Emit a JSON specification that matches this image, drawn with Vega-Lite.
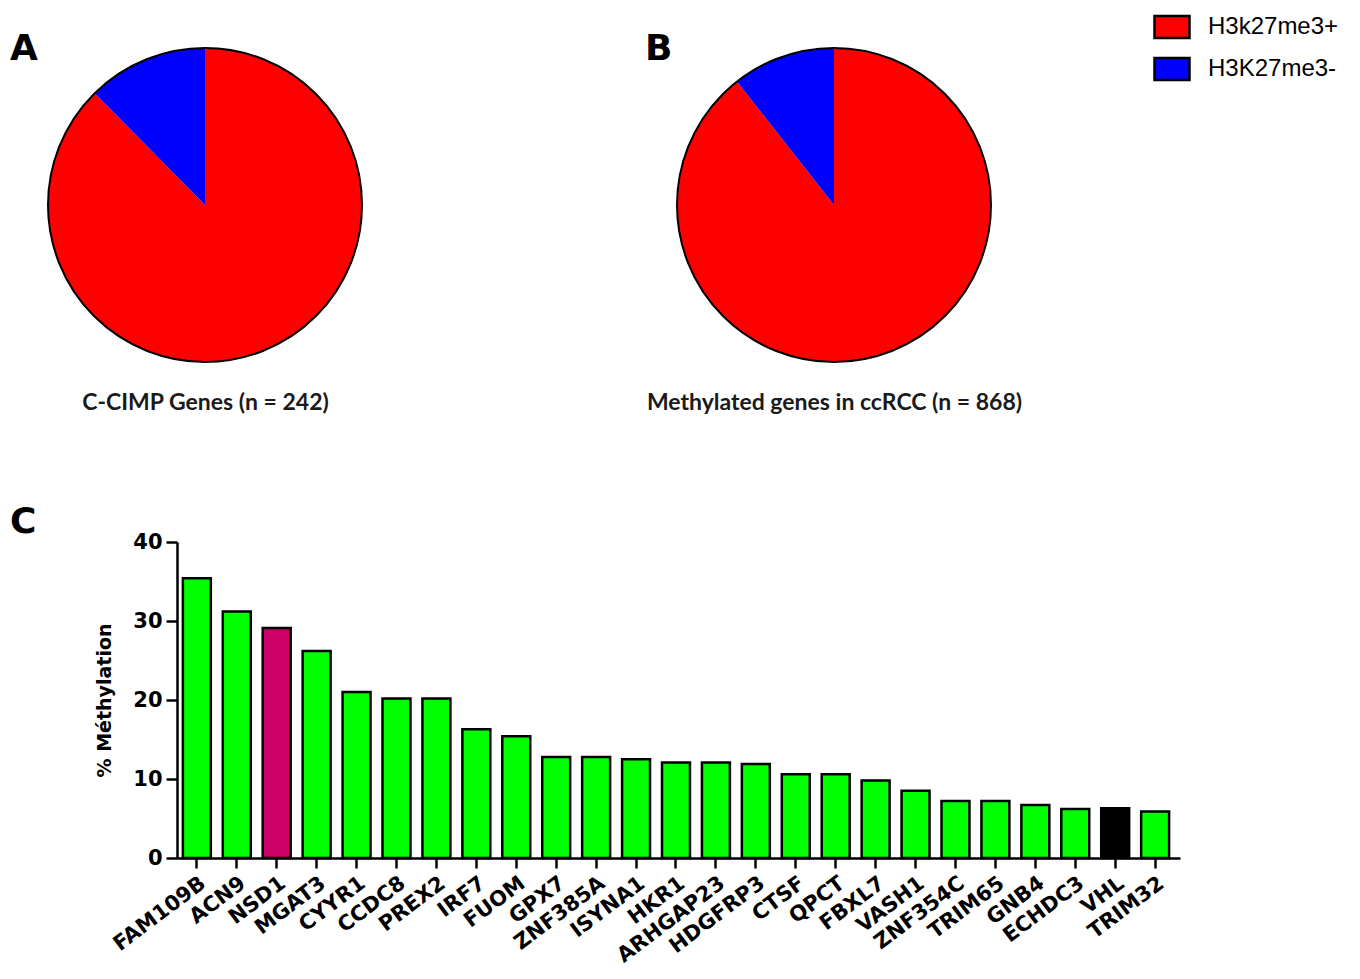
{
  "$schema": "https://vega.github.io/schema/vega-lite/v6.json",
  "padding": {"left": 10, "top": 8, "right": 0, "bottom": 0},
  "background": "white",
  "config": {
    "view": {"stroke": null},
    "title": {"font": "DejaVu Sans", "fontWeight": "bold", "fontSize": 36, "color": "black", "anchor": "start", "frame": "group"}
  },
  "resolve": {"scale": {"color": "independent"}},
  "spacing": 90,
  "vconcat": [
    {
      "hconcat": [
        {
          "title": {"text": "A", "dx": -167, "dy": 28},
          "width": 56, "height": 314,
          "layer": [
            {
              "data": {"values": [
                {"status": "H3k27me3+", "count": 212, "ord": 1},
                {"status": "H3K27me3-", "count": 30, "ord": 2}
              ]},
              "mark": {"type": "arc", "stroke": null, "outerRadius": 157},
              "encoding": {
                "theta": {"field": "count", "type": "quantitative", "stack": true},
                "order": {"field": "ord", "type": "quantitative"},
                "color": {"field": "status", "type": "nominal", "scale": {"domain": ["H3k27me3+", "H3K27me3-"], "range": ["#FF0000", "#0000FF"]}, "legend": null}
              }
            },
            {
              "data": {"values": [
                {"status": "H3k27me3+", "count": 212},
                {"status": "H3K27me3-", "count": 30}
              ]},
              "mark": {"type": "arc", "filled": false, "stroke": "black", "strokeWidth": 2, "outerRadius": 157},
              "encoding": {
                "theta": {"aggregate": "sum", "field": "count", "type": "quantitative"}
              }
            },
            {
              "data": {"values": [{"cap": "C-CIMP Genes (n = 242)"}]},
              "mark": {"type": "text", "text": ""},
              "encoding": {
                "x": {"field": "cap", "type": "nominal", "axis": {"title": null, "domain": false, "ticks": false, "labelAngle": 0, "labelFont": "Lato", "labelFontWeight": "bold", "labelFontSize": 23, "labelColor": "#1a1a1a", "labelPadding": 29, "labelLimit": 0}}
              }
            }
          ]
        },
        {
          "title": {"text": "B", "dx": -32, "dy": 64},
          "width": 314, "height": 314,
          "layer": [
            {
              "data": {"values": [
                {"status": "H3k27me3+", "count": 776, "ord": 1},
                {"status": "H3K27me3-", "count": 92, "ord": 2}
              ]},
              "mark": {"type": "arc", "stroke": null, "outerRadius": 157},
              "encoding": {
                "theta": {"field": "count", "type": "quantitative", "stack": true},
                "order": {"field": "ord", "type": "quantitative"},
                "color": {"field": "status", "type": "nominal", "scale": {"domain": ["H3k27me3+", "H3K27me3-"], "range": ["#FF0000", "#0000FF"]},
                  "legend": {"orient": "none", "legendX": 476, "legendY": -40, "title": null, "symbolType": "M-1,-0.63H1V0.63H-1Z", "symbolSize": 1225, "symbolStrokeColor": "black", "symbolStrokeWidth": 2.5, "symbolOpacity": 1, "labelFont": "Liberation Sans", "labelFontSize": 24, "labelColor": "black", "labelOffset": 17, "rowPadding": 6, "labelLimit": 0}}
              }
            },
            {
              "data": {"values": [
                {"status": "H3k27me3+", "count": 776},
                {"status": "H3K27me3-", "count": 92}
              ]},
              "mark": {"type": "arc", "filled": false, "stroke": "black", "strokeWidth": 2, "outerRadius": 157},
              "encoding": {
                "theta": {"aggregate": "sum", "field": "count", "type": "quantitative"}
              }
            },
            {
              "data": {"values": [{"cap": "Methylated genes in ccRCC (n = 868)"}]},
              "mark": {"type": "text", "text": ""},
              "encoding": {
                "x": {"field": "cap", "type": "nominal", "axis": {"title": null, "domain": false, "ticks": false, "labelAngle": 0, "labelFont": "Lato", "labelFontWeight": "bold", "labelFontSize": 23, "labelColor": "#1a1a1a", "labelPadding": 29, "labelLimit": 0}}
              }
            }
          ]
        }
      ],
      "bounds": "flush",
      "spacing": 444,
      "resolve": {"scale": {"color": "independent", "theta": "independent", "x": "independent"}}
    },
    {
      "title": {"text": "C", "dx": -167, "dy": 14},
      "width": 1003,
      "height": 316,
      "data": {"values": [
        {"gene": "FAM109B", "pct": 35.4, "kind": "other"},
        {"gene": "ACN9", "pct": 31.2, "kind": "other"},
        {"gene": "NSD1", "pct": 29.1, "kind": "NSD1"},
        {"gene": "MGAT3", "pct": 26.2, "kind": "other"},
        {"gene": "CYYR1", "pct": 21.0, "kind": "other"},
        {"gene": "CCDC8", "pct": 20.2, "kind": "other"},
        {"gene": "PREX2", "pct": 20.2, "kind": "other"},
        {"gene": "IRF7", "pct": 16.3, "kind": "other"},
        {"gene": "FUOM", "pct": 15.4, "kind": "other"},
        {"gene": "GPX7", "pct": 12.8, "kind": "other"},
        {"gene": "ZNF385A", "pct": 12.8, "kind": "other"},
        {"gene": "ISYNA1", "pct": 12.5, "kind": "other"},
        {"gene": "HKR1", "pct": 12.1, "kind": "other"},
        {"gene": "ARHGAP23", "pct": 12.1, "kind": "other"},
        {"gene": "HDGFRP3", "pct": 11.9, "kind": "other"},
        {"gene": "CTSF", "pct": 10.6, "kind": "other"},
        {"gene": "QPCT", "pct": 10.6, "kind": "other"},
        {"gene": "FBXL7", "pct": 9.8, "kind": "other"},
        {"gene": "VASH1", "pct": 8.5, "kind": "other"},
        {"gene": "ZNF354C", "pct": 7.2, "kind": "other"},
        {"gene": "TRIM65", "pct": 7.2, "kind": "other"},
        {"gene": "GNB4", "pct": 6.7, "kind": "other"},
        {"gene": "ECHDC3", "pct": 6.2, "kind": "other"},
        {"gene": "VHL", "pct": 6.3, "kind": "VHL"},
        {"gene": "TRIM32", "pct": 5.9, "kind": "other"}
      ]},
      "mark": {"type": "bar", "stroke": "black", "strokeWidth": 2.5},
      "encoding": {
        "x": {"field": "gene", "type": "nominal", "sort": null,
          "scale": {"paddingInner": 0.3, "paddingOuter": 0.21, "align": 0.35},
          "axis": {"title": null, "labelAngle": -37, "labelFont": "DejaVu Sans", "labelFontWeight": "bold", "labelFontSize": 21, "labelColor": "black", "labelPadding": 4, "domainColor": "black", "domainWidth": 2.5, "tickColor": "black", "tickWidth": 2.5, "tickSize": 10, "grid": false}},
        "y": {"field": "pct", "type": "quantitative",
          "scale": {"domain": [0, 40], "nice": false},
          "axis": {"values": [0, 10, 20, 30, 40], "title": "% Méthylation", "titleFont": "DejaVu Sans", "titleFontWeight": "bold", "titleFontSize": 19, "titleColor": "black", "titlePadding": 18, "labelFont": "DejaVu Sans", "labelFontWeight": "bold", "labelFontSize": 21, "labelColor": "black", "labelPadding": 4, "domainColor": "black", "domainWidth": 2.5, "tickColor": "black", "tickWidth": 2.5, "tickSize": 11, "grid": false}},
        "color": {"field": "kind", "type": "nominal", "scale": {"domain": ["other", "NSD1", "VHL"], "range": ["#00FF00", "#CC0066", "#000000"]}, "legend": null}
      }
    }
  ]
}
